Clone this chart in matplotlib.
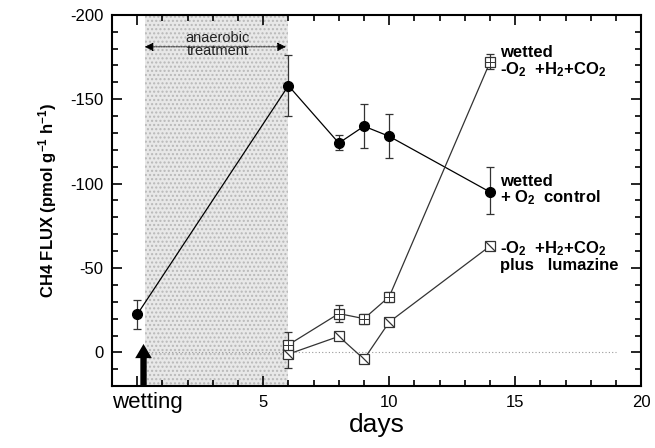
import matplotlib
matplotlib.use("Agg")
import matplotlib.pyplot as plt
from matplotlib.ticker import MultipleLocator
from matplotlib.path import Path
from matplotlib.transforms import ScaledTranslation
import numpy as np

plt.rcParams['font.family'] = ['Liberation Sans', 'DejaVu Sans']
plt.rcParams['mathtext.default'] = 'regular'
plt.rcParams['axes.unicode_minus'] = False

# control: wetted +O2
ctrl_x = [0, 6, 8, 9, 10, 14]
ctrl_y = [-22.5, -158, -124, -134, -128, -95]
ctrl_lo = [-14, -140, -120, -121, -115, -82]
ctrl_hi = [-31, -176, -129, -147, -141, -110]

# wetted -O2 +H2+CO2
h2_x = [6, 8, 9, 10, 14]
h2_y = [-4.5, -23, -20, -33, -172]
h2_lo = [9.5, -18, -17, -30, -168]
h2_hi = [-12, -28, -23, -36, -177]

# -O2 +H2+CO2 plus lumazine
lum_x = [6, 8, 9, 10, 14]
lum_y = [1, -9.5, 4, -18, -63]

xticks = [0, 5, 10, 15, 20]
xticklabels = ['wetting', '5', '10', '15', '20']
yticks = [-200, -150, -100, -50, 0]

fig = plt.figure(figsize=(6.55, 4.48), dpi=100)
ax = fig.add_axes([0.171, 0.138, 0.808, 0.829])

# shaded anaerobic period
ax.axvspan(0.3, 6, facecolor='#e8e8e8', edgecolor='#b8b8b8', hatch='....', linewidth=0, zorder=0)
# zero line
ax.plot([0.3, 19], [0, 0], linestyle=(0, (1, 2)), color='#999999', linewidth=0.8, zorder=1)

def yerr(y, lo, hi):
    y = np.array(y, float); lo = np.array(lo, float); hi = np.array(hi, float)
    mn = np.minimum(lo, hi); mx = np.maximum(lo, hi)
    return np.vstack([y - mn, mx - y])

lc = '#333333'
ax.errorbar(ctrl_x, ctrl_y, yerr=yerr(ctrl_y, ctrl_lo, ctrl_hi),
            fmt='o', color='black', markersize=7, ecolor=lc, elinewidth=0.9, capsize=3, capthick=0.9,
            linestyle='-', linewidth=0.9, zorder=4)
ax.errorbar(h2_x, h2_y, yerr=yerr(h2_y, h2_lo, h2_hi),
            fmt='s', color=lc, markerfacecolor='white', markeredgecolor=lc, markersize=7,
            markeredgewidth=0.9, ecolor=lc, elinewidth=0.9, capsize=3, capthick=0.9,
            linestyle='-', linewidth=0.9, zorder=4)
ax.plot(h2_x, h2_y, linestyle='none', marker='+', markersize=7, markeredgecolor=lc,
        markeredgewidth=0.7, zorder=5)
ax.plot(lum_x, lum_y, marker='s', color=lc, markerfacecolor='white', markeredgecolor=lc,
        markersize=7, markeredgewidth=0.9, linestyle='-', linewidth=0.9, zorder=4)
diag = Path([(-1, 1), (1, -1)], [Path.MOVETO, Path.LINETO])
ax.plot(lum_x, lum_y, linestyle='none', marker=diag, markersize=7, markeredgecolor=lc,
        markerfacecolor='none', markeredgewidth=0.9, zorder=5)

ax.set_xlim(-1, 20)
ax.set_ylim(20, -200)
ax.set_xticks(xticks)
ax.set_xticklabels(xticklabels)
ax.set_yticks(yticks)
ax.set_yticklabels([str(v) for v in yticks])
ax.xaxis.set_minor_locator(MultipleLocator(1))
ax.yaxis.set_minor_locator(MultipleLocator(10))
ax.tick_params(which='both', direction='in', top=True, right=True, width=1.2)
ax.tick_params(which='major', length=7, labelsize=12, pad=6)
ax.tick_params(which='minor', length=4)
for lbl in ax.get_xticklabels():
    if lbl.get_text() == 'wetting':
        lbl.set_fontsize(16)
        lbl.set_transform(lbl.get_transform() + ScaledTranslation(0.1, 0.03, fig.dpi_scale_trans))
for s in ax.spines.values():
    s.set_linewidth(1.5)

ax.set_xlabel('days', fontsize=19, labelpad=0)
ax.set_ylabel('CH4 FLUX (pmol g$^{-1}$ h$^{-1}$)', fontsize=12, fontweight='bold', labelpad=8)

# anaerobic annotation
ax.annotate('', xy=(0.3, -181), xytext=(5.9, -181),
            arrowprops=dict(arrowstyle='<|-|>', color='black', lw=0.6, mutation_scale=13,
                            linestyle=(0, (2, 1)), shrinkA=0, shrinkB=0))
ax.text(3.2, -182.5, 'anaerobic\ntreatment', ha='center', va='center', fontsize=10.5,
        linespacing=0.85, color='#222222')

# wetting arrow
ax.annotate('', xy=(0.25, -5), xytext=(0.25, 20),
            arrowprops=dict(arrowstyle='simple,head_width=1.0,head_length=0.85,tail_width=0.38',
                            color='black', lw=0, mutation_scale=12, shrinkA=0, shrinkB=0))

lab_kw = dict(fontsize=12, fontweight='bold', va='center', ha='left', linespacing=1.0)
ax.text(14.4, -172, 'wetted\n-O$_{2}$  +H$_{2}$+CO$_{2}$', **lab_kw)
ax.text(14.4, -96, 'wetted\n+ O$_{2}$  control', **lab_kw)
ax.text(14.4, -57, '-O$_{2}$  +H$_{2}$+CO$_{2}$\nplus   lumazine', **lab_kw)

fig.savefig('out.png', dpi=100)
